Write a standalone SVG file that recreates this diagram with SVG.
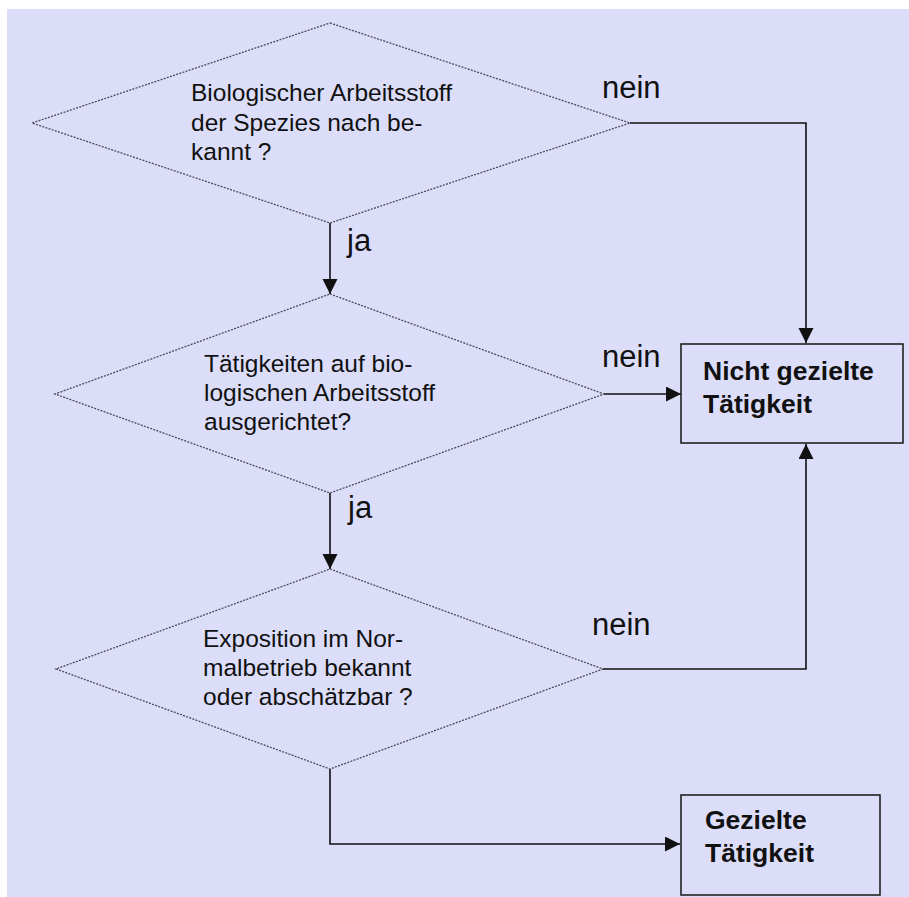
<svg xmlns="http://www.w3.org/2000/svg" width="909" height="897" viewBox="0 0 909 897">
<defs>
<style>
.bg{fill:#dcdef9}
.dia{fill:none;stroke:#4a4a5a;stroke-width:1.3;stroke-dasharray:2 1.3}
.box{fill:none;stroke:#222;stroke-width:1.6}
.con{fill:none;stroke:#111;stroke-width:1.6}
.t{font-family:"Liberation Sans",Arial,sans-serif;font-size:24.5px;fill:#111}
.b{font-family:"Liberation Sans",Arial,sans-serif;font-size:26.5px;font-weight:bold;fill:#111}
.l{font-family:"Liberation Sans",Arial,sans-serif;font-size:31px;fill:#111}
</style>
<marker id="arr" markerUnits="userSpaceOnUse" markerWidth="16" markerHeight="16" refX="15" refY="7.5" orient="auto">
<path d="M0,0 L15,7.5 L0,15 z" fill="#111"/>
</marker>
</defs>
<rect width="909" height="897" fill="#ffffff"/>
<rect class="bg" x="7" y="9" width="902" height="888"/>

<g id="connectors">
<polyline class="con" points="630,123 806,123 806,343" marker-end="url(#arr)"/>
<line class="con" x1="330" y1="223" x2="330" y2="294" marker-end="url(#arr)"/>
<line class="con" x1="604" y1="394" x2="681" y2="394" marker-end="url(#arr)"/>
<line class="con" x1="330" y1="493" x2="330" y2="569" marker-end="url(#arr)"/>
<polyline class="con" points="603,669 806,669 806,444" marker-end="url(#arr)"/>
<polyline class="con" points="330,769 330,844 680,844" marker-end="url(#arr)"/>
<text class="l" x="602" y="98">nein</text>
<text class="l" x="347" y="251">ja</text>
<text class="l" x="602" y="367">nein</text>
<text class="l" x="348" y="518">ja</text>
<text class="l" x="592" y="635">nein</text>
</g>

<g id="d1">
<polygon class="dia" points="330,23 630,123 330,223 32,123"/>
<text class="t" x="191" y="101">Biologischer Arbeitsstoff</text>
<text class="t" x="191" y="131">der Spezies nach be-</text>
<text class="t" x="191" y="160">kannt ?</text>
</g>

<g id="d2">
<polygon class="dia" points="330,294 604,394 330,493 55,394"/>
<text class="t" x="204" y="372">Tätigkeiten auf bio-</text>
<text class="t" x="204" y="401">logischen Arbeitsstoff</text>
<text class="t" x="204" y="430">ausgerichtet?</text>
</g>

<g id="d3">
<polygon class="dia" points="330,569 603,669 330,769 56,669"/>
<text class="t" x="203" y="647">Exposition im Nor-</text>
<text class="t" x="203" y="676">malbetrieb bekannt</text>
<text class="t" x="203" y="705">oder abschätzbar ?</text>
</g>

<g id="box1">
<rect class="box" x="681" y="344" width="222" height="99"/>
<text class="b" x="703" y="380">Nicht gezielte</text>
<text class="b" x="703" y="413">Tätigkeit</text>
</g>

<g id="box2">
<rect class="box" x="681" y="795" width="199" height="100"/>
<text class="b" x="705" y="829">Gezielte</text>
<text class="b" x="705" y="862">Tätigkeit</text>
</g>
</svg>
